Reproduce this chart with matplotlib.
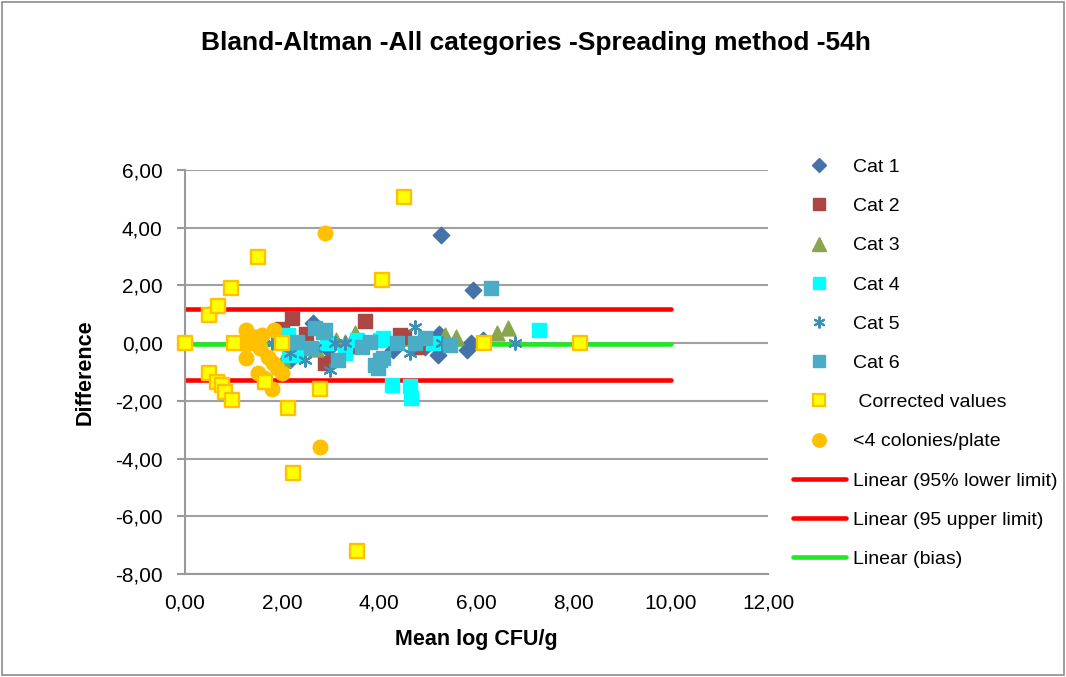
import matplotlib.pyplot as plt
from matplotlib.lines import Line2D
from matplotlib.patches import Rectangle
from matplotlib.ticker import FuncFormatter

plt.rcParams['font.family'] = ['Liberation Sans', 'DejaVu Sans']

# Bland-Altman points: mean log CFU/g vs difference
cat1_x = [2.05, 2.16, 2.64, 2.95, 3.35, 4.29, 4.95, 5.2, 5.22, 5.26, 5.8, 5.88, 5.92, 6.14]
cat1_y = [-0.05, -0.6, 0.69, -0.2, -0.25, -0.24, -0.14, -0.4, 0.3, 3.74, -0.24, 0.0, 1.84, 0.1]

cat2_x = [2.0, 2.2, 2.5, 2.89, 3.4, 3.71, 4.43, 4.5, 4.78]
cat2_y = [0.48, 0.87, 0.3, -0.69, -0.1, 0.76, 0.28, 0.22, -0.14]

cat3_x = [2.02, 2.7, 3.1, 3.3, 3.5, 5.36, 5.57, 6.43, 6.64]
cat3_y = [-0.59, -0.2, 0.1, 0.03, 0.35, 0.28, 0.2, 0.35, 0.52]

cat4_x = [2.12, 2.15, 2.3, 2.93, 3.3, 3.55, 4.02, 4.08, 4.27, 4.64, 4.66, 5.11, 7.28]
cat4_y = [0.28, -0.4, -0.4, 0.0, -0.35, 0.1, 0.1, 0.17, -1.46, -1.5, -1.9, 0.0, 0.45]

cat5_x = [1.79, 2.16, 2.47, 2.68, 2.99, 3.09, 3.3, 4.64, 4.74, 5.3, 6.8]
cat5_y = [0.0, -0.35, -0.59, -0.17, -0.94, 0.0, 0.0, -0.35, 0.55, 0.0, 0.0]

cat6_x = [2.3, 2.6, 2.68, 2.85, 2.89, 3.15, 3.65, 3.81, 3.92, 3.98, 4.02, 4.08, 4.37, 4.74, 4.95, 5.46, 6.29]
cat6_y = [0.03, -0.17, 0.52, 0.38, 0.45, -0.59, -0.14, 0.03, -0.76, -0.87, -0.59, -0.52, 0.0, 0.0, 0.17, -0.07, 1.91]

corr_x = [0.0, 0.5, 0.68, 0.95, 1.5, 1.0, 2.0, 0.5, 0.66, 0.76, 0.82, 0.97, 1.65, 2.78, 2.12,
          2.23, 3.55, 4.5, 4.06, 6.15, 8.14]
corr_y = [0.0, 0.97, 1.28, 1.9, 2.98, 0.0, 0.0, -1.04, -1.35, -1.46, -1.7, -1.98, -1.35, -1.6, -2.25,
          -4.5, -7.2, 5.06, 2.18, 0.0, 0.0]

low_x = [0.5, 1.26, 1.84, 1.59, 1.44, 1.34, 1.18, 1.5, 1.55, 1.26, 1.71, 1.81, 1.9, 1.99, 1.5,
         1.63, 1.8, 2.78, 2.89]
low_y = [1.0, 0.45, 0.45, 0.28, 0.2, 0.0, 0.0, -0.07, -0.17, -0.5, -0.48, -0.7, -0.87, -1.04, -1.04,
         -1.2, -1.6, -3.6, 3.8]

# limits of agreement and bias, drawn from x=0 to x=10
line_x = [0, 10]
lower_limit = [-1.28, -1.28]
upper_limit = [1.18, 1.18]
bias = [-0.02, -0.02]

fig = plt.figure(figsize=(10.66, 6.77), dpi=100)
ax = fig.add_axes([0.1735, 0.1521, 0.547, 0.5968])

ax.plot(line_x, lower_limit, color="#FF0000", linewidth=3.3, solid_capstyle="round", zorder=2)
ax.plot(line_x, upper_limit, color="#FF0000", linewidth=3.3, solid_capstyle="round", zorder=2)
ax.plot(line_x, bias, color="#22E822", linewidth=3.3, solid_capstyle="round", zorder=2)

ax.scatter(cat1_x, cat1_y, marker="D", s=70, color="#4572A7", zorder=3, clip_on=False)
ax.scatter(cat2_x, cat2_y, marker="s", s=100, color="#AA4643", zorder=3, clip_on=False)
ax.scatter(cat3_x, cat3_y, marker="^", s=115, color="#89A54E", zorder=3, clip_on=False)
ax.scatter(cat4_x, cat4_y, marker="s", s=100, color="#00FFFF", zorder=3, clip_on=False)
ax.scatter(cat5_x, cat5_y, marker=(6, 2, 0), s=80, color="#3D8FB3", linewidth=1.6, zorder=3, clip_on=False)
ax.scatter(cat6_x, cat6_y, marker="s", s=100, color="#4BACC6", zorder=3, clip_on=False)
ax.scatter(low_x, low_y, marker="o", s=110, color="#FFC000", zorder=4, clip_on=False)
ax.scatter(corr_x, corr_y, marker="s", s=100, facecolor="#FFFF00", edgecolor="#FFC000",
           linewidth=1.7, zorder=5, clip_on=False)

ax.set_xlim(0, 12)
ax.set_ylim(-8, 6)
ax.set_xticks(range(0, 13, 2))
ax.set_yticks(range(-8, 7, 2))
fmt = FuncFormatter(lambda v, p: f"{v:.2f}".replace(".", ","))
ax.xaxis.set_major_formatter(fmt)
ax.yaxis.set_major_formatter(fmt)
ax.tick_params(axis="y", length=6, width=1.5, color="#999999", labelsize=15, pad=10)
ax.tick_params(axis="x", length=0, labelsize=15, pad=14)

ax.grid(axis="y", color="#A0A0A0", linewidth=1.5, zorder=0)
ax.set_axisbelow(True)
for side in ["top", "right"]:
    ax.spines[side].set_visible(False)
for side in ["left", "bottom"]:
    ax.spines[side].set_color("#999999")
    ax.spines[side].set_linewidth(1.5)

ax.set_xlabel("Mean log CFU/g", fontsize=15.5, fontweight="bold", labelpad=12)
ax.set_ylabel("Difference", fontsize=15.5, fontweight="bold", labelpad=14)
fig.text(0.503, 0.936, "Bland-Altman -All categories -Spreading method -54h",
         fontsize=19, fontweight="bold", ha="center", va="center")

handles = [
    Line2D([], [], linestyle="none", marker="D", markersize=7.5, color="#4572A7"),
    Line2D([], [], linestyle="none", marker="s", markersize=9, color="#AA4643"),
    Line2D([], [], linestyle="none", marker="^", markersize=10, color="#89A54E"),
    Line2D([], [], linestyle="none", marker="s", markersize=9, color="#00FFFF"),
    Line2D([], [], linestyle="none", marker=(6, 2, 0), markersize=8.5, markeredgewidth=1.5, color="#3D8FB3"),
    Line2D([], [], linestyle="none", marker="s", markersize=9, color="#4BACC6"),
    Line2D([], [], linestyle="none", marker="s", markersize=9, markerfacecolor="#FFFF00",
           markeredgecolor="#FFC000", markeredgewidth=1.6),
    Line2D([], [], linestyle="none", marker="o", markersize=9.7, color="#FFC000"),
    Line2D([], [], color="#FF0000", linewidth=3.3, solid_capstyle="round"),
    Line2D([], [], color="#FF0000", linewidth=3.3, solid_capstyle="round"),
    Line2D([], [], color="#22E822", linewidth=3.3, solid_capstyle="round"),
]
labels = ["Cat 1", "Cat 2", "Cat 3", "Cat 4", "Cat 5", "Cat 6", " Corrected values",
          "<4 colonies/plate", "Linear (95% lower limit)", "Linear (95 upper limit)", "Linear (bias)"]
fig.legend(handles, labels, loc="upper left", bbox_to_anchor=(0.744, 0.766), frameon=False,
           fontsize=14, borderpad=0, borderaxespad=0, labelspacing=1.11,
           handlelength=2.7, handletextpad=0.36)

# grey border round the whole chart
fig.add_artist(Rectangle((0.002, 0.003), 0.996, 0.994, transform=fig.transFigure,
                         fill=False, edgecolor="#8C8C8C", linewidth=1.2))

fig.savefig("out.png", dpi=100)
